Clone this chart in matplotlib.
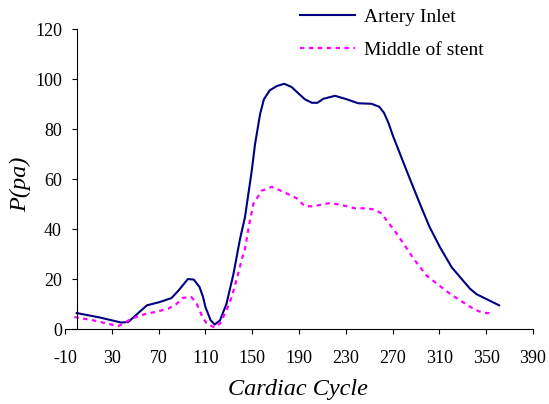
import matplotlib
matplotlib.use("Agg")
import matplotlib.pyplot as plt

plt.rcParams['font.family'] = ['Liberation Serif', 'DejaVu Serif']
plt.rcParams['axes.unicode_minus'] = False

# Artery Inlet (solid navy)
inlet_x = [0, 20, 38, 44, 60, 71, 81, 87, 95, 100, 105, 108, 110, 114.5, 118, 122.5,
           128, 134, 139.6, 143.8, 149.6, 152.4, 156.7, 160, 165, 171, 177.4, 183.7,
           189.4, 195, 201, 205.7, 210.8, 220.8, 230.8, 240.7, 252, 258.6, 262.6,
           266.3, 270.6, 282, 293.4, 301.4, 310.5, 320.5, 336.2, 341.9, 361]
inlet_y = [6.5, 4.7, 2.7, 2.9, 9.6, 10.9, 12.5, 15.5, 20.1, 19.9, 16.9, 12.9, 8.9, 3.6,
           1.9, 3.6, 10.2, 22.2, 36.2, 44.8, 63.4, 74, 86, 92, 95.6, 97.3, 98.2, 96.9,
           94.4, 92, 90.6, 90.6, 92.2, 93.4, 92, 90.4, 90.2, 89, 86.6, 82.7, 77, 63.4,
           50.1, 41.1, 32.8, 24.8, 16.2, 14, 9.6]

# Middle of stent (dotted magenta)
stent_x = [-2, 14, 25.6, 35.6, 39.8, 47, 59.8, 67, 78, 85.5, 91, 98, 102.6, 106.8, 111,
           118, 122.5, 128, 132.5, 138.7, 141, 143.8, 147.5, 151, 158, 166.7, 176.6, 188,
           195, 202, 215, 222, 229, 238, 248, 255, 260.7, 266, 270.6, 273.5, 280, 288,
           299, 306, 319, 327.6, 340.4, 347.5, 356]
stent_y = [4.9, 3.6, 2.3, 1.3, 2.3, 4.3, 6.3, 6.9, 8.2, 10.2, 12.6, 12.9, 10.2, 5.6, 2.3,
           0.7, 2.3, 7.6, 12.9, 23.5, 27.8, 32.2, 42.1, 50.1, 55.4, 57, 55, 52.4, 49.2,
           49.2, 50.4, 50.1, 49.4, 48.4, 48.4, 47.8, 46.3, 42.8, 40.2, 38.2, 33.8, 28.2,
           21.5, 18.9, 14.2, 11.6, 7.8, 6.6, 6.4]

xticks = list(range(-10, 391, 40))
yticks = list(range(0, 121, 20))

fig = plt.figure(figsize=(5.49, 4.04), dpi=100)
ax = fig.add_axes([0.1184, 0.1849, 0.8525, 0.7426])

ax.plot(inlet_x, inlet_y, color='#000080', lw=1.5, label='Artery Inlet')
ax.plot(stent_x, stent_y, color='#ff00ff', lw=1.6, linestyle=(0, (2, 2)),
        label='Middle of stent')

ax.set_xlim(-10, 390)
ax.set_ylim(0, 120)
ax.set_xticks(xticks)
ax.set_yticks(yticks)

ax.spines['top'].set_visible(False)
ax.spines['right'].set_visible(False)
ax.spines['left'].set_position(('data', 0))
for s in ('left', 'bottom'):
    ax.spines[s].set_linewidth(0.8)

ax.tick_params(axis='x', direction='out', length=3.6, width=0.8, pad=11, labelsize=13)
ax.tick_params(axis='y', direction='out', length=3.6, width=0.8, pad=7, labelsize=13)

ax.set_xlabel('Cardiac Cycle', fontsize=17.5, style='italic')
ax.set_ylabel('P(pa)', fontsize=17.5, style='italic')
ax.xaxis.set_label_coords(0.497, -0.165)
ax.yaxis.set_label_coords(-0.072, 0.484)

fig.legend(loc='upper left', bbox_to_anchor=(300 / 549, 1 - 8.5 / 404),
           frameon=False, fontsize=14, handlelength=2.85, handletextpad=0.46,
           labelspacing=0.78, borderpad=0, borderaxespad=0)

fig.savefig('out.png', dpi=100)
